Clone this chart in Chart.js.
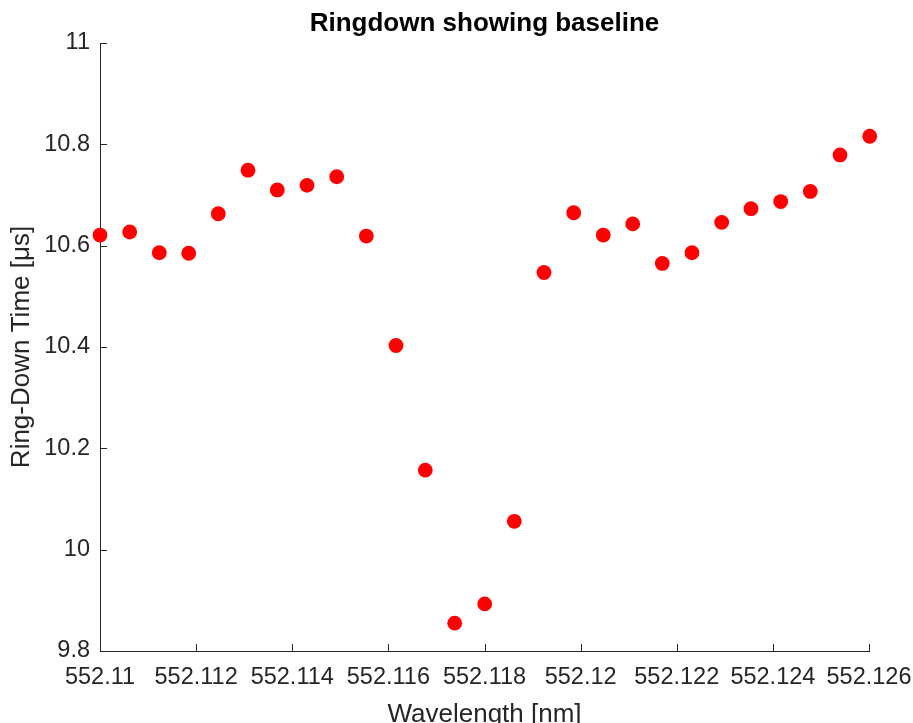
<!DOCTYPE html>
<html>
<head>
<meta charset="utf-8">
<script src="https://cdn.jsdelivr.net/npm/chart.js@4/dist/chart.umd.min.js"></script>
<style>
  html, body { margin: 0; padding: 0; background: #ffffff; }
  #wrap { width: 913px; height: 723px; position: relative; }
</style>
</head>
<body>
<div id="wrap"><canvas id="c" width="913" height="723"></canvas></div>
<script>
// ---- data ----
const wavelengths = [
  552.110000, 552.110618, 552.111234, 552.111846, 552.112461, 552.113079,
  552.113689, 552.114307, 552.114925, 552.115541, 552.116159, 552.116768,
  552.117380, 552.118004, 552.118620, 552.119238, 552.119856, 552.120471,
  552.121084, 552.121699, 552.122317, 552.122935, 552.123545, 552.124163,
  552.124779, 552.125397, 552.126015
];
const ringdown = [
  10.621, 10.627, 10.586, 10.585, 10.663, 10.749,
  10.710, 10.719, 10.736, 10.619, 10.403, 10.157,
  9.855, 9.893, 10.056, 10.547, 10.665, 10.621,
  10.643, 10.565, 10.586, 10.646, 10.673, 10.687,
  10.707, 10.779, 10.816
];
const xTickValues = [552.110, 552.112, 552.114, 552.116, 552.118, 552.120, 552.122, 552.124, 552.126];
const yTickValues = [9.8, 10.0, 10.2, 10.4, 10.6, 10.8, 11.0];

const chartTitle = 'Ringdown showing baseline';
const xTitle = 'Wavelength [nm]';
const yTitle = 'Ring-Down Time [\u03BCs]';

const AX = '#262626';
const FONT = "'Liberation Sans', Arial, Helvetica, sans-serif";

const inwardTicks = {
  id: 'inwardTicks',
  afterDraw(chart) {
    const { ctx, chartArea, scales } = chart;
    const len = 7;
    ctx.save();
    ctx.strokeStyle = AX;
    ctx.lineWidth = 1;
    ctx.beginPath();
    scales.x.ticks.forEach(t => {
      const px = Math.round(scales.x.getPixelForValue(t.value)) + 0.5;
      ctx.moveTo(px, chartArea.bottom);
      ctx.lineTo(px, chartArea.bottom - len);
    });
    scales.y.ticks.forEach(t => {
      const py = Math.round(scales.y.getPixelForValue(t.value)) + 0.5;
      ctx.moveTo(chartArea.left, py);
      ctx.lineTo(chartArea.left + len, py);
    });
    ctx.stroke();
    ctx.restore();
  }
};

new Chart(document.getElementById('c'), {
  type: 'scatter',
  data: {
    datasets: [{
      data: wavelengths.map((w, i) => ({ x: w, y: ringdown[i] })),
      backgroundColor: '#ff0000',
      borderWidth: 0,
      pointRadius: 7.4,
      pointHoverRadius: 7.4,
      clip: false
    }]
  },
  options: {
    responsive: false,
    animation: false,
    events: [],
    layout: { padding: { top: 0, left: 0, right: 44, bottom: 0 } },
    plugins: {
      legend: { display: false },
      tooltip: { enabled: false },
      title: {
        display: true,
        text: chartTitle,
        fullSize: false,
        color: '#000000',
        font: { family: FONT, size: 26, weight: 'bold', lineHeight: 1.2 },
        padding: { top: 8, bottom: 3.8 }
      }
    },
    scales: {
      x: {
        type: 'linear',
        min: 552.110,
        max: 552.126,
        afterFit(scale) { scale.height = 72; scale.paddingLeft = 0; scale.paddingRight = 0; },
        afterBuildTicks(scale) { scale.ticks = xTickValues.map(v => ({ value: v })); },
        grid: { display: false, drawTicks: false },
        border: { display: true, color: AX, width: 1 },
        ticks: {
          color: AX,
          padding: 12.5,
          maxRotation: 0,
          autoSkip: false,
          font: { family: FONT, size: 23.5 },
          callback: v => String(parseFloat(Number(v).toFixed(3)))
        },
        title: {
          display: true,
          text: xTitle,
          color: AX,
          font: { family: FONT, size: 26, lineHeight: 1 },
          padding: { top: 0, bottom: -4.5 }
        }
      },
      y: {
        type: 'linear',
        min: 9.8,
        max: 11,
        afterFit(scale) { scale.width = 100; scale.paddingTop = 0; scale.paddingBottom = 0; },
        afterBuildTicks(scale) { scale.ticks = yTickValues.map(v => ({ value: v })); },
        grid: { display: false, drawTicks: false },
        border: { display: true, color: AX, width: 1 },
        ticks: {
          color: AX,
          padding: 10,
          autoSkip: false,
          font: { family: FONT, size: 23.5 },
          callback: v => String(parseFloat(Number(v).toFixed(1)))
        },
        title: {
          display: true,
          text: yTitle,
          color: AX,
          font: { family: FONT, size: 26, lineHeight: 1 },
          padding: { top: 9, bottom: 0 }
        }
      }
    }
  },
  plugins: [inwardTicks]
});
</script>
</body>
</html>
